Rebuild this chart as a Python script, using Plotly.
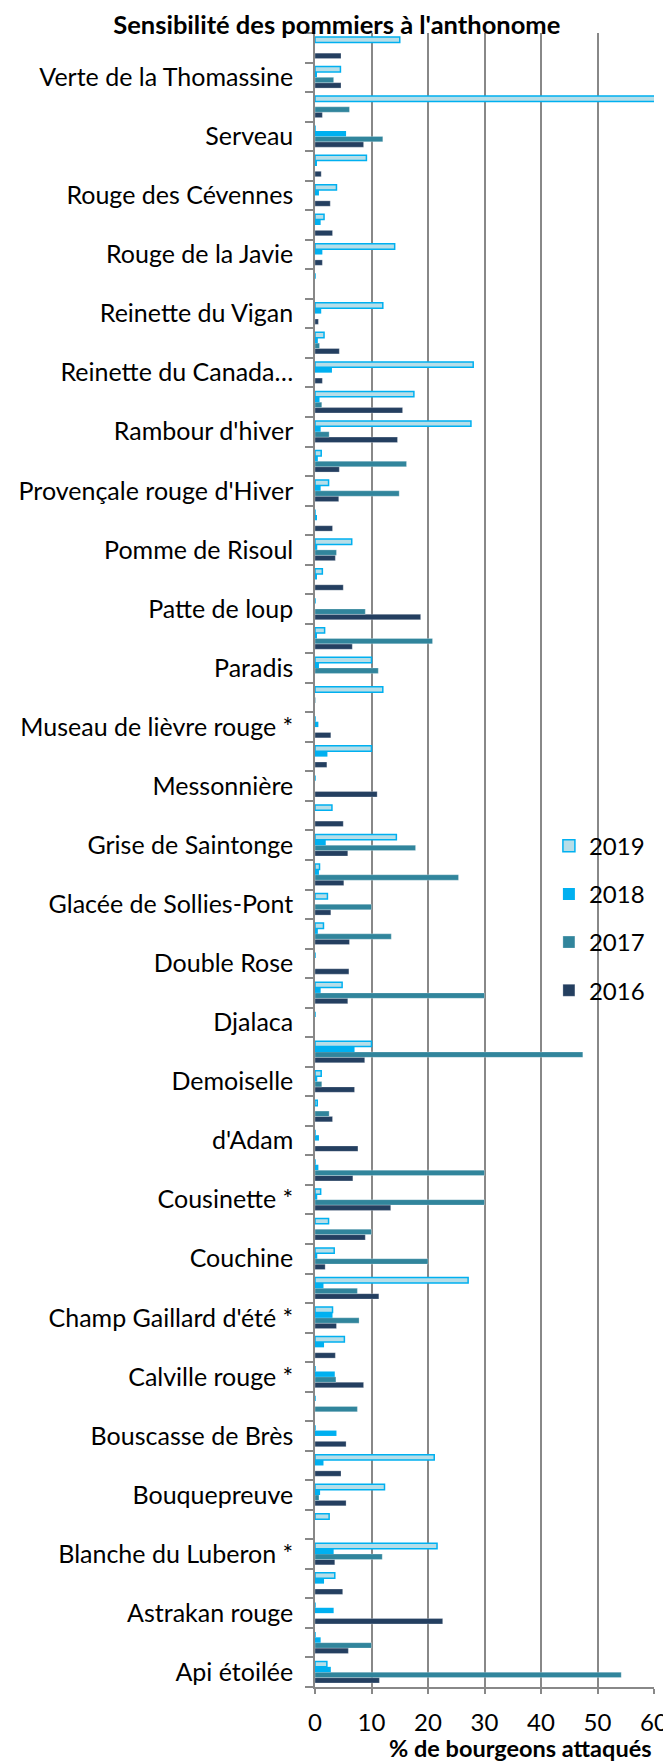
import plotly.graph_objects as go

# Categories, bottom to top (alphabetical). Unlabelled categories are hidden on the axis.
categories = [
    "Api étoilée", "(variété 1)",
    "Astrakan rouge", "(variété 3)",
    "Blanche du Luberon *", "(variété 5)",
    "Bouquepreuve", "(variété 7)",
    "Bouscasse de Brès", "(variété 9)",
    "Calville rouge *", "(variété 11)",
    "Champ Gaillard d'été *", "(variété 13)",
    "Couchine", "(variété 15)",
    "Cousinette *", "(variété 17)",
    "d'Adam", "(variété 19)",
    "Demoiselle", "(variété 21)",
    "Djalaca", "(variété 23)",
    "Double Rose", "(variété 25)",
    "Glacée de Sollies-Pont", "(variété 27)",
    "Grise de Saintonge", "(variété 29)",
    "Messonnière", "(variété 31)",
    "Museau de lièvre rouge *", "(variété 33)",
    "Paradis", "(variété 35)",
    "Patte de loup", "(variété 37)",
    "Pomme de Risoul", "(variété 39)",
    "Provençale rouge d'Hiver", "(variété 41)",
    "Rambour d'hiver", "(variété 43)",
    "Reinette du Canada…", "(variété 45)",
    "Reinette du Vigan", "(variété 47)",
    "Rouge de la Javie", "(variété 49)",
    "Rouge des Cévennes", "(variété 51)",
    "Serveau", "(variété 53)",
    "Verte de la Thomassine", "(variété 55)",
]

v2019 = [2.1, 0, 0, 3.5, 21.6, 2.5, 12.3, 21.1, 0, 0,
         0, 5.2, 3.1, 27.1, 3.4, 2.4, 1.0, 0, 0, 0.4,
         1.1, 10.0, 0, 4.8, 0, 1.5, 2.2, 0.8, 14.4, 3.0,
         0, 10.0, 0, 12.0, 10.0, 1.7, 0, 1.3, 6.5, 0,
         2.4, 1.1, 27.6, 17.5, 28.0, 1.6, 12.0, 0, 14.1, 1.6,
         3.8, 9.1, 0, 61.0, 4.5, 15.0]
v2018 = [2.8, 1.0, 3.3, 1.6, 3.3, 0, 0.9, 1.5, 3.8, 0,
         3.5, 1.6, 3.1, 1.5, 0.4, 0, 0.4, 0.6, 0.7, 0,
         0.4, 7.0, 0, 1.0, 0, 0.5, 0, 0.7, 1.9, 0,
         0, 2.2, 0.6, 0, 0.7, 0.2, 0, 0.2, 0.4, 0.2,
         1.0, 0.5, 1.0, 0.8, 3.0, 0.5, 1.1, 0, 1.3, 1.0,
         0.7, 0.3, 5.5, 0, 0.2, 0]
v2017 = [54.2, 10.0, 0, 0, 11.9, 0, 0.7, 0, 0, 7.5,
         3.7, 0, 7.8, 7.5, 20.0, 10.0, 30.0, 30.0, 0, 2.5,
         1.2, 47.4, 0, 30.0, 0, 13.5, 10.0, 25.4, 17.8, 0,
         0, 0, 0, 0.1, 11.2, 20.8, 8.9, 0, 3.8, 0,
         14.9, 16.2, 2.5, 1.2, 0, 0.8, 0, 0, 0, 0,
         0, 0, 12.0, 6.1, 3.3, 0]
v2016 = [11.4, 5.9, 22.6, 4.9, 3.5, 0, 5.5, 4.6, 5.5, 0,
         8.6, 3.6, 3.8, 11.3, 1.8, 8.9, 13.4, 6.7, 7.6, 3.1,
         7.0, 8.8, 0, 5.8, 6.0, 6.1, 2.8, 5.1, 5.8, 5.0,
         11.0, 2.1, 2.8, 0, 0, 6.6, 18.7, 5.0, 3.6, 3.1,
         4.2, 4.3, 14.6, 15.5, 1.3, 4.3, 0.6, 0, 1.3, 3.1,
         2.7, 1.1, 8.6, 1.3, 4.6, 4.6]

tick_text = ["" if c.startswith("(") else c for c in categories]

FONT = "Lato"
GRID = "#888888"

L, R, T, B = 303, 11, 25, 83
W, H = 671, 1762
PW, PH = W - L - R, H - T - B

fig = go.Figure()
series = [
    ("2016", v2016, "#243F60", "rgba(255,255,255,0.5)", 0.5, 4),
    ("2017", v2017, "#31859C", "rgba(255,255,255,0.5)", 0.5, 3),
    ("2018", v2018, "#00B0F0", "#00B0F0", 0, 2),
    ("2019", v2019, "#B7DEE8", "#00B0F0", 1.5, 1),
]
for name, vals, fill, lc, lw, rank in series:
    fig.add_trace(go.Bar(
        name=name, y=categories, x=vals, orientation="h",
        marker=dict(color=fill, line=dict(color=lc, width=lw)),
        legendgroup=name, legendrank=rank,
    ))

fig.update_layout(
    width=W, height=H,
    margin=dict(l=L, r=R, t=T, b=B),
    barmode="group", bargap=0.27, bargroupgap=0,
    plot_bgcolor="white", paper_bgcolor="white",
    font=dict(family=FONT, size=24, color="black"),
    title=dict(text="<b>Sensibilité des pommiers à l'anthonome</b>",
               x=0.49, xanchor="center", y=1 - 17 / H, yanchor="middle",
               font=dict(family=FONT, size=25.5, color="black")),
    legend=dict(traceorder="grouped", tracegroupgap=14,
                x=0.69, xanchor="left", y=0.522, yanchor="top",
                bgcolor="rgba(0,0,0,0)", font=dict(family=FONT, size=24)),
    showlegend=True,
)

fig.update_yaxes(
    type="category", categoryorder="array", categoryarray=categories,
    tickmode="array", tickvals=categories, ticktext=tick_text,
    tickson="boundaries", ticks="outside", ticklen=8, tickwidth=1.5,
    tickcolor=GRID, showline=True, linecolor=GRID, linewidth=1.5,
    showgrid=False, ticklabelstandoff=15,
    tickfont=dict(family=FONT, size=25, color="black"),
)
fig.update_xaxes(
    range=[0, 60], tick0=0, dtick=10, showgrid=True, gridcolor=GRID, gridwidth=1.5,
    showline=True, linecolor=GRID, linewidth=1.5, ticks="outside", ticklen=5,
    tickcolor=GRID, tickwidth=1.5, zeroline=False, ticklabelstandoff=8,
    ticklabeloverflow="allow",
    tickfont=dict(family=FONT, size=24, color="black"),
)

fig.add_annotation(
    text="<b>% de bourgeons attaqués</b>", xref="paper", yref="paper",
    x=1.0, xanchor="right", y=((H - B) - 1740) / PH, yanchor="middle",
    showarrow=False, font=dict(family=FONT, size=23.5, color="black"),
)

fig.write_html("out.html")
